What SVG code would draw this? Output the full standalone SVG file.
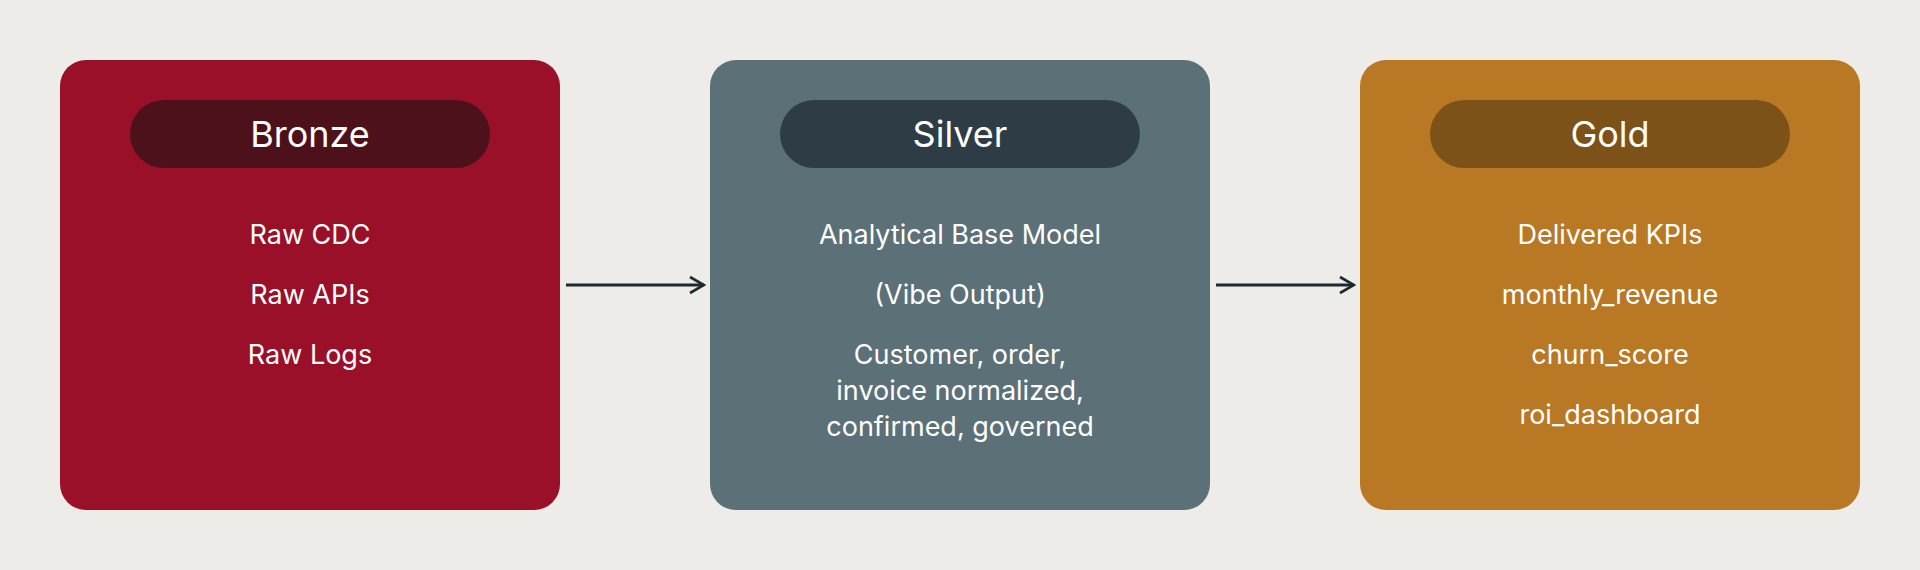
<svg xmlns="http://www.w3.org/2000/svg" width="1920" height="570" viewBox="0 0 1920 570">
<defs>
<marker id="ah" viewBox="0 0 20 20" refX="18" refY="10" markerWidth="20" markerHeight="20" markerUnits="userSpaceOnUse" orient="auto"><path d="M4 2 L18 10 L4 18" fill="none" stroke="#1c2a30" stroke-width="2.6"/></marker>
</defs>
<style>
.t{font-family:Inter,"Noto Sans",sans-serif;fill:#fff;text-anchor:middle}
.h{font-size:36px}
.b{font-size:27px}
.c{stroke:#1c2a30;stroke-width:3;fill:none}
</style>
<rect width="1920" height="570" fill="#eeece8"/>
<g id="bronze">
<rect x="60" y="60" width="500" height="450" rx="26" fill="#9a1029"/>
<rect x="130" y="100" width="360" height="68" rx="34" fill="#4c111b"/>
<text class="t h" x="310" y="147">Bronze</text>
<text class="t b" x="310" y="244">Raw CDC</text>
<text class="t b" x="310" y="304">Raw APIs</text>
<text class="t b" x="310" y="364">Raw Logs</text>
</g>
<g id="silver">
<rect x="710" y="60" width="500" height="450" rx="26" fill="#5c7078"/>
<rect x="780" y="100" width="360" height="68" rx="34" fill="#2e3d45"/>
<text class="t h" x="960" y="147">Silver</text>
<text class="t b" x="960" y="244">Analytical Base Model</text>
<text class="t b" x="960" y="304">(Vibe Output)</text>
<text class="t b" x="960" y="364">Customer, order,</text>
<text class="t b" x="960" y="400">invoice normalized,</text>
<text class="t b" x="960" y="436">confirmed, governed</text>
</g>
<g id="gold">
<rect x="1360" y="60" width="500" height="450" rx="26" fill="#b87824"/>
<rect x="1430" y="100" width="360" height="68" rx="34" fill="#7c5218"/>
<text class="t h" x="1610" y="147">Gold</text>
<text class="t b" x="1610" y="244">Delivered KPIs</text>
<text class="t b" x="1610" y="304">monthly_revenue</text>
<text class="t b" x="1610" y="364">churn_score</text>
<text class="t b" x="1610" y="424">roi_dashboard</text>
</g>
<g id="connectors">
<line class="c" x1="566" y1="285" x2="704" y2="285" marker-end="url(#ah)"/>
<line class="c" x1="1216" y1="285" x2="1354" y2="285" marker-end="url(#ah)"/>
</g>
</svg>
